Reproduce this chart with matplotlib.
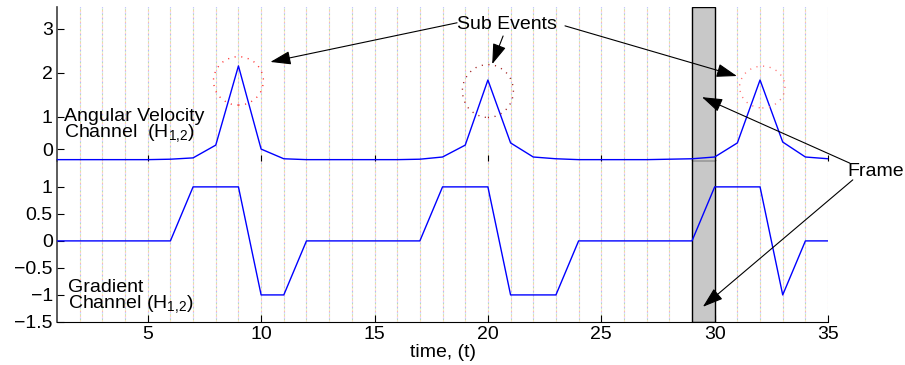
import numpy as np
import matplotlib
matplotlib.use("Agg")
import matplotlib.pyplot as plt
from matplotlib.patches import Ellipse

plt.rcParams['font.family'] = ['Liberation Sans', 'DejaVu Sans']
plt.rcParams['mathtext.default'] = 'regular'
plt.rcParams['font.size'] = 14

# data
t = np.arange(1, 36)
angular = [0.03, 0.03, 0.03, 0.03, 0.03, 0.04, 0.07, 0.36, 2.16, 0.27,
           0.05, 0.03, 0.03, 0.03, 0.03, 0.03, 0.04, 0.09, 0.36, 1.84,
           0.41, 0.09, 0.05, 0.03, 0.03, 0.03, 0.03, 0.04, 0.05, 0.09,
           0.41, 1.84, 0.43, 0.09, 0.05]
gradient = [0, 0, 0, 0, 0, 0, 1, 1, 1, -1,
            -1, 0, 0, 0, 0, 0, 0, 1, 1, 1,
            -1, -1, -1, 0, 0, 0, 0, 0, 0, 1,
            1, 1, -1, 0, 0]
frame = (29, 30)
peaks = [(9.0, 1.82, 2.2, 1.1, '#ff3030'),
         (20.0, 1.59, 2.25, 1.2, '#a02020'),
         (32.1, 1.68, 2.0, 0.95, '#ff7070')]
top_ticks = [0.27, 1, 2, 3]
top_labels = ['0', '1', '2', '3']
bot_ticks = [-1.5, -1, -0.5, 0, 0.5, 1]
x_ticks = [5, 10, 15, 20, 25, 30, 35]

fig = plt.figure(figsize=(9.05, 3.65), dpi=100)
ax2 = fig.add_axes([0.063, 0.118, 0.852, 0.444])
ax1 = fig.add_axes([0.063, 0.559, 0.852, 0.422])
ax1.patch.set_alpha(0)

grid_cols = ['#ff9090', '#9090ff', '#90d090', '#e0d070']
for ax in (ax1, ax2):
    for i, c in enumerate(grid_cols):
        ax.vlines(t[1:], 0, 1, transform=ax.get_xaxis_transform(),
                  colors=c, lw=0.8, linestyles=[(i * 1.2, (0.6, 4.2))],
                  zorder=1)
    ax.axvspan(frame[0], frame[1], facecolor='#c8c8c8', edgecolor='k',
               lw=1, zorder=2)
    ax.set_xlim(1, 35)
    for s in ('top', 'right'):
        ax.spines[s].set_visible(False)
    ax.spines['left'].set_color('#404040')
    ax.spines['left'].set_linewidth(1.2)
    ax.tick_params(direction='in', length=5, width=0.8, pad=3)

ax1.plot(t, angular, color='#0000ff', lw=1, zorder=3)
ax1.set_ylim(0, 3.5)
ax1.set_yticks(top_ticks)
ax1.set_yticklabels(top_labels)
ax1.spines['bottom'].set_visible(False)
ax1.set_xticks(x_ticks)
ax1.tick_params(axis='x', labelbottom=False, length=4)
for cx, cy, w, h, c in peaks:
    ax1.add_patch(Ellipse((cx, cy), w, h, fill=False, edgecolor=c,
                          lw=1, linestyle=(0, (0.8, 4)), zorder=3))

ax2.plot(t, gradient, color='#0000ff', lw=1, zorder=3)
ax2.set_ylim(-1.5, 1.5)
ax2.set_yticks(bot_ticks)
ax2.set_yticklabels(['\u22121.5', '\u22121', '\u22120.5', '0', '0.5', '1'])
ax2.set_xticks(x_ticks)
ax2.set_xlabel('time, (t)', labelpad=1)

ax1.text(1.33, 0.8, 'Angular Velocity\nChannel  (H$_{1{,}2}$)',
         ha='left', va='center', linespacing=0.8, zorder=5)
ax2.text(1.47, -1.04, 'Gradient\nChannel (H$_{1{,}2}$)',
         ha='left', va='center', linespacing=0.8, zorder=5)

ax1.text(20.85, 3.11, 'Sub Events', ha='center', va='center')
arw = dict(arrowstyle='-|>,head_length=0.9,head_width=0.3', color='k',
           lw=0.8, shrinkA=0, shrinkB=0)
for tip, start in [((10.41, 2.25), (18.64, 3.14)),
                   ((20.19, 2.2), (20.67, 2.84)),
                   ((30.98, 1.93), (23.4, 3.07))]:
    ax1.annotate('', xy=tip, xytext=start, arrowprops=arw,
                 annotation_clip=False, zorder=6)

ax1.text(35.83, -0.25, 'Frame', ha='left', va='center')
ax1.annotate('', xy=(29.44, 1.45), xytext=(35.96, -0.05), arrowprops=arw,
             annotation_clip=False, zorder=6)
ax2.annotate('', xy=(29.48, -1.22), xytext=(36.09, 1.13), arrowprops=arw,
             annotation_clip=False, zorder=6)

fig.savefig('out.png', dpi=100)
